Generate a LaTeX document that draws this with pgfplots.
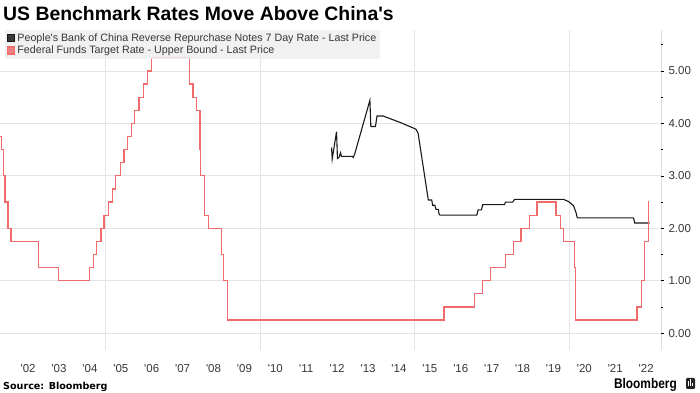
\documentclass[border=0pt]{standalone}
\usepackage{pgfplots}
\pgfplotsset{compat=1.18}
\usepackage{fontspec}
\setmainfont{Liberation Sans}
\newfontfamily\dejavu{DejaVu Sans}
\definecolor{fedred}{RGB}{240,108,108}
\definecolor{pboc}{RGB}{25,25,25}
\definecolor{gridgray}{RGB}{228,228,228}
\definecolor{labgray}{RGB}{55,55,55}
\definecolor{leggray}{RGB}{238,238,238}

\begin{document}
\begin{tikzpicture}
\begin{axis}[
  at={(0bp,43bp)}, anchor=south west,
  scale only axis, width=661bp, height=320bp,
  xmin=2001.59, xmax=2022.98, ymin=-0.32, ymax=5.78,
  axis line style={draw=none},
  xtick={2002.5,2003.5,2004.5,2005.5,2006.5,2007.5,2008.5,2009.5,2010.5,2011.5,2012.5,2013.5,2014.5,2015.5,2016.5,2017.5,2018.5,2019.5,2020.5,2021.5,2022.5},
  xticklabels={{\textquotesingle 02},{\textquotesingle 03},{\textquotesingle 04},{\textquotesingle 05},{\textquotesingle 06},{\textquotesingle 07},{\textquotesingle 08},{\textquotesingle 09},{\textquotesingle 10},{\textquotesingle 11},{\textquotesingle 12},{\textquotesingle 13},{\textquotesingle 14},{\textquotesingle 15},{\textquotesingle 16},{\textquotesingle 17},{\textquotesingle 18},{\textquotesingle 19},{\textquotesingle 20},{\textquotesingle 21},{\textquotesingle 22}},
  x tick style={draw=none},
  xticklabel style={font=\fontsize{11.5bp}{12bp}\selectfont, text=labgray, yshift=-8bp},
  extra x ticks={2005,2010,2015,2020},
  extra x tick labels={},
  extra x tick style={grid=major, x tick style={draw=none}},
  ytick={0,1,2,3,4,5},
  minor ytick={0.5,1.5,2.5,3.5,4.5,5.5},
  ymajorgrids,
  grid style={gridgray, line width=0.7bp},
  ytick pos=right, yticklabel pos=right,
  tick align=outside, major tick length=3bp, minor tick length=2bp,
  y tick style={black, line width=0.6bp},
  /pgf/number format/assume math mode=true,
  yticklabel style={/pgf/number format/fixed, /pgf/number format/fixed zerofill, /pgf/number format/precision=2, font=\fontsize{11.5bp}{12bp}\selectfont, text=labgray, xshift=1bp},
  legend style={at={(0.0076,1)}, anchor=north west, fill=leggray, fill opacity=0.85, text opacity=1, draw=none,
    font=\fontsize{10.7bp}{11.5bp}\selectfont, text=labgray, inner xsep=2bp, inner ysep=1.5bp, row sep=-1bp},
  legend cell align=left,
]
\addplot[pboc, line width=1.1bp, sharp plot,
  legend image code/.code={\fill[pboc] (0bp,-3.5bp) rectangle (7bp,3.5bp);}]
 coordinates {
(2012.32,3.54)(2012.34,3.32)(2012.48,3.84)(2012.51,3.33)(2012.56,3.35)(2012.61,3.44)(2012.64,3.37)(2012.99,3.37)(2013.02,3.35)(2013.07,3.42)(2013.56,4.44)(2013.59,3.94)(2013.74,3.94)(2013.79,4.14)(2013.99,4.14)(2014.53,4.02)(2015.05,3.89)(2015.12,3.81)(2015.45,2.54)(2015.56,2.54)(2015.59,2.44)(2015.66,2.44)(2015.70,2.36)(2015.77,2.36)(2015.80,2.27)(2015.83,2.25)(2017.02,2.25)(2017.06,2.35)(2017.17,2.35)(2017.21,2.45)(2017.91,2.45)(2017.95,2.50)(2018.18,2.50)(2018.24,2.55)(2019.83,2.55)(2019.99,2.51)(2020.15,2.43)(2020.23,2.30)(2020.27,2.20)(2022.09,2.20)(2022.13,2.10)(2022.61,2.10)
};
\addlegendentry{People\textquotesingle s Bank of China Reverse Repurchase Notes 7 Day Rate - Last Price}
\addplot[fedred, line width=1.2bp, const plot,
  legend image code/.code={\fill[fedred] (0bp,-3.5bp) rectangle (7bp,3.5bp);}]
 coordinates {
(2001.485,3.75)(2001.636,3.50)(2001.710,3.00)(2001.751,2.50)(2001.847,2.00)(2001.943,1.75)(2002.847,1.25)(2003.481,1.00)(2004.497,1.25)(2004.609,1.50)(2004.724,1.75)(2004.861,2.00)(2004.954,2.25)(2005.090,2.50)(2005.221,2.75)(2005.336,3.00)(2005.496,3.25)(2005.605,3.50)(2005.721,3.75)(2005.836,4.00)(2005.951,4.25)(2006.085,4.50)(2006.238,4.75)(2006.356,5.00)(2006.493,5.25)(2007.715,4.75)(2007.833,4.50)(2007.945,4.25)(2008.060,3.50)(2008.082,3.00)(2008.213,2.25)(2008.331,2.00)(2008.770,1.50)(2008.828,1.00)(2008.959,0.25)(2015.959,0.50)(2016.954,0.75)(2017.203,1.00)(2017.452,1.25)(2017.951,1.50)(2018.219,1.75)(2018.449,2.00)(2018.737,2.25)(2018.967,2.50)(2019.581,2.25)(2019.715,2.00)(2019.830,1.75)(2020.172,1.25)(2020.205,0.25)(2022.205,0.50)(2022.340,1.00)(2022.455,1.75)(2022.570,2.50)(2022.59,2.50)
};
\addlegendentry{Federal Funds Target Rate - Upper Bound - Last Price}
\draw[black, line width=0.8bp] (rel axis cs:1,0) -- (rel axis cs:1,1);
\end{axis}
\node[anchor=base west, inner sep=0pt] at (3bp,372bp) {\fontsize{19.4bp}{20bp}\selectfont\bfseries US Benchmark Rates Move Above China\textquotesingle s};
\node[anchor=base west, inner sep=0pt] at (3bp,4bp) {\dejavu\bfseries\fontsize{9.6bp}{10bp}\selectfont Source: Bloomberg};
\node[anchor=base east, inner sep=0pt] at (677bp,5bp) {\scalebox{0.85}[1]{\bfseries\fontsize{14bp}{15bp}\selectfont Bloomberg}};
\fill[rounded corners=1.2bp, black!85] (686bp,4bp) rectangle (695bp,15bp);
\draw[white, line width=0.8bp] (688.5bp,7bp) -- (688.5bp,12bp) (690.5bp,7bp) -- (690.5bp,13.5bp) (692.5bp,7bp) -- (692.5bp,10bp);
\pgfresetboundingbox
\path[use as bounding box] (0bp,0bp) rectangle (700bp,393bp);
\end{tikzpicture}
\end{document}
